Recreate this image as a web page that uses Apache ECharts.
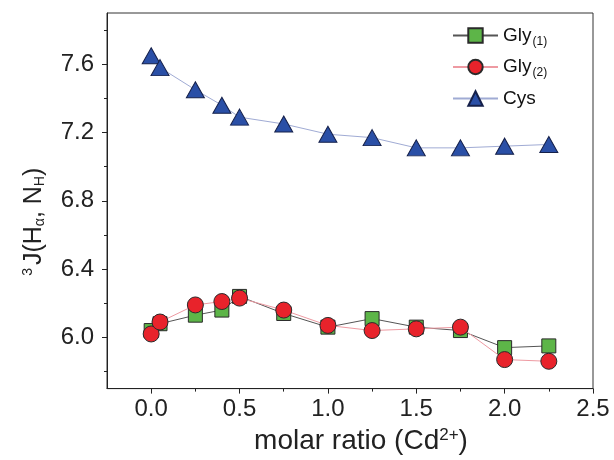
<!DOCTYPE html>
<html>
<head>
<meta charset="utf-8">
<script src="https://cdn.jsdelivr.net/npm/echarts@6/dist/echarts.min.js"></script>
<style>html,body{margin:0;padding:0;background:#fff;}#c{width:614px;height:460px;}</style>
</head>
<body>
<div id="c"></div>
<script>
const xValues = [0, 0.05, 0.25, 0.4, 0.5, 0.75, 1.0, 1.25, 1.5, 1.75, 2.0, 2.25];
const gly1 = [6.04, 6.08, 6.13, 6.16, 6.24, 6.14, 6.06, 6.11, 6.06, 6.04, 5.94, 5.95];
const gly2 = [6.02, 6.09, 6.19, 6.21, 6.23, 6.16, 6.07, 6.04, 6.05, 6.06, 5.87, 5.86];
const cys = [7.65, 7.58, 7.45, 7.36, 7.29, 7.25, 7.19, 7.17, 7.11, 7.11, 7.12, 7.13];
const xMajorTicks = [0, 0.5, 1.0, 1.5, 2.0, 2.5];
const xMinorTicks = [0.25, 0.75, 1.25, 1.75, 2.25];
const yMajorTicks = [6.0, 6.4, 6.8, 7.2, 7.6];
const yMinorTicks = [5.8, 6.2, 6.6, 7.0, 7.4, 7.8];
const seriesNames = ['Gly1', 'Gly2', 'Cys'];
const legendLabels = {Gly1: '{n|Gly}{sub|(1)}', Gly2: '{n|Gly}{sub|(2)}', Cys: '{n|Cys}'};

const FONT = 'Liberation Sans';
const pair = arr => xValues.map((x, i) => [x, arr[i]]);

const chart = echarts.init(document.getElementById('c'), null, {renderer: 'canvas'});
chart.setOption({
  animation: false,
  backgroundColor: '#fff',
  grid: {left: 107, right: 21, top: 13, bottom: 68, show: true, borderColor: '#333', borderWidth: 1, backgroundColor: 'transparent'},
  legend: {
    orient: 'vertical', left: 452, top: 26, padding: 0, itemWidth: 45, itemHeight: 18, itemGap: 10,
    data: seriesNames,
    formatter: name => legendLabels[name],
    textStyle: {fontFamily: FONT, color: '#111', rich: {
      n: {fontSize: 19, fontFamily: FONT, color: '#111'},
      sub: {fontSize: 12, fontFamily: FONT, color: '#111', verticalAlign: 'bottom', padding: [12, 0, 0, 1]}
    }}
  },
  xAxis: [{
    type: 'value', min: -0.25, max: 2.5, position: 'bottom',
    axisLine: {show: true, onZero: false, lineStyle: {color: '#222', width: 1}},
    axisTick: {show: true, inside: false, length: 5, customValues: xMajorTicks, lineStyle: {color: '#222'}},
    axisLabel: {customValues: xMajorTicks, formatter: v => v.toFixed(1), fontFamily: FONT, fontSize: 24, color: '#222', margin: 9},
    splitLine: {show: false},
    name: '{n|molar ratio (Cd}{sup|2+}{n|)}', nameLocation: 'middle', nameGap: 35,
    nameTextStyle: {padding: [0, 0, 0, 22], rich: {
      n: {fontSize: 28, fontFamily: FONT, color: '#222'},
      sup: {fontSize: 17, fontFamily: FONT, color: '#222', verticalAlign: 'top', padding: [0, 0, 12, 0]}
    }}
  }, {
    type: 'value', min: -0.25, max: 2.5, position: 'bottom',
    axisLine: {show: false, onZero: false},
    axisTick: {show: true, inside: false, length: 3, customValues: xMinorTicks, lineStyle: {color: '#222'}},
    axisLabel: {show: false},
    splitLine: {show: false}
  }],
  yAxis: [{
    type: 'value', min: 5.7, max: 7.9, position: 'left',
    axisLine: {show: true, onZero: false, lineStyle: {color: '#222', width: 1}},
    axisTick: {show: true, inside: false, length: 5, customValues: yMajorTicks, lineStyle: {color: '#222'}},
    axisLabel: {customValues: yMajorTicks, formatter: v => v.toFixed(1), fontFamily: FONT, fontSize: 24, color: '#222', margin: 13},
    splitLine: {show: false},
    name: '{sup|3}{n|J(H}{sub|α}{n|, N}{sub|H}{n|)}', nameLocation: 'middle', nameRotate: 90, nameGap: 60,
    nameTextStyle: {padding: [0, 42, 0, 0], rich: {
      n: {fontSize: 25, fontFamily: FONT, color: '#222'},
      sup: {fontSize: 14, fontFamily: FONT, color: '#222', verticalAlign: 'top', padding: [0, 3, 12, 0]},
      sub: {fontSize: 14, fontFamily: FONT, color: '#222', verticalAlign: 'bottom', padding: [12, 0, 0, 0]}
    }}
  }, {
    type: 'value', min: 5.7, max: 7.9, position: 'left',
    axisLine: {show: false, onZero: false},
    axisTick: {show: true, inside: false, length: 3, customValues: yMinorTicks, lineStyle: {color: '#222'}},
    axisLabel: {show: false},
    splitLine: {show: false}
  }],
  series: [{
    name: 'Gly1', type: 'line', data: pair(gly1), symbol: 'rect', symbolSize: 14,
    lineStyle: {color: '#555', width: 1},
    itemStyle: {color: '#5db548', borderColor: '#2a2a2a', borderWidth: 1}, z: 2
  }, {
    name: 'Gly2', type: 'line', data: pair(gly2), symbol: 'circle', symbolSize: 16,
    lineStyle: {color: '#ee9aa2', width: 1},
    itemStyle: {color: '#e8232b', borderColor: '#2a2a2a', borderWidth: 1}, z: 3
  }, {
    name: 'Cys', type: 'line', data: pair(cys), symbol: 'triangle', symbolSize: [18, 16],
    lineStyle: {color: '#a0abd4', width: 1},
    itemStyle: {color: '#2a4fa6', borderColor: '#15204a', borderWidth: 1}, z: 4
  }]
});
</script>
</body>
</html>
